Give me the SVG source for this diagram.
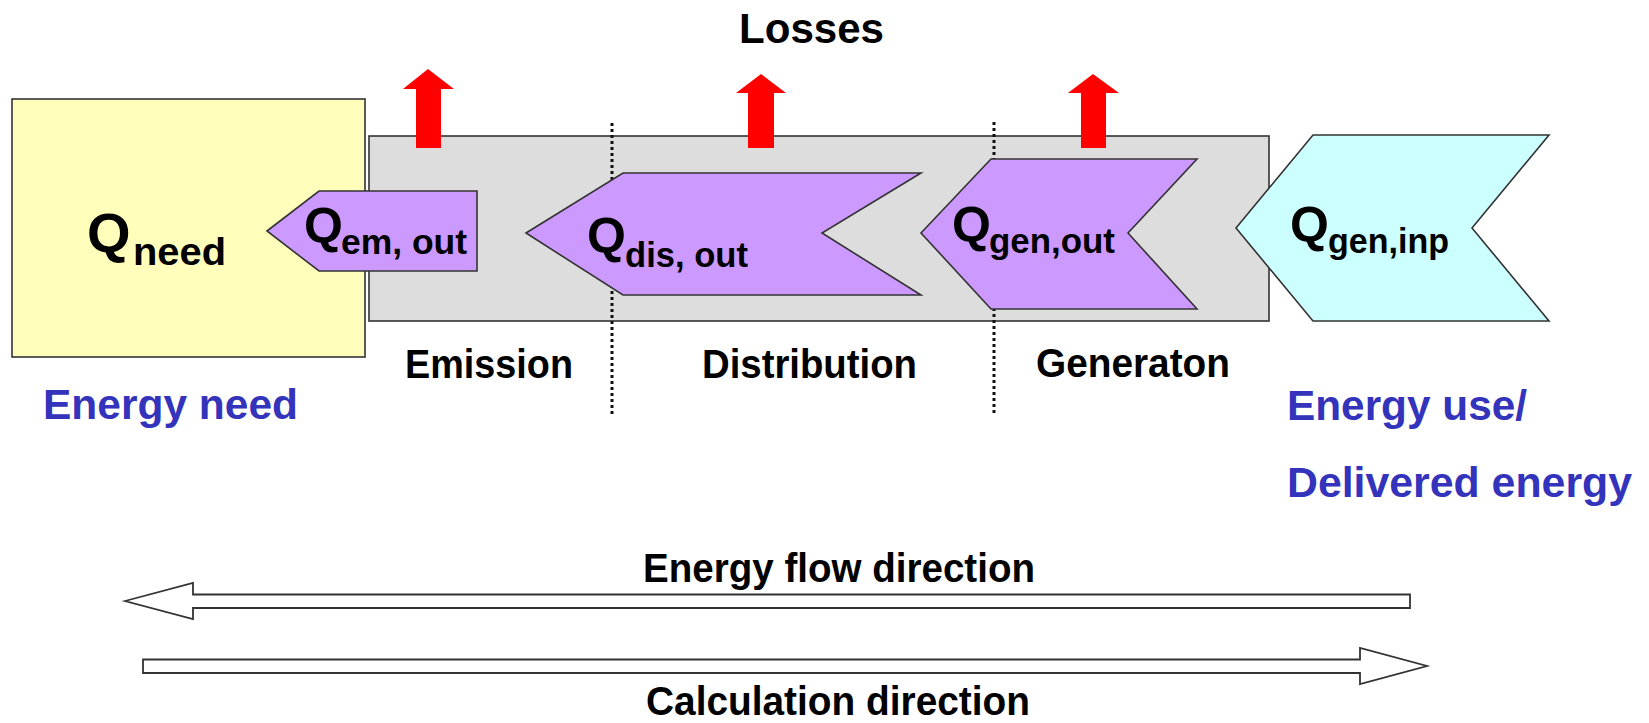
<svg xmlns="http://www.w3.org/2000/svg" width="1649" height="723" viewBox="0 0 1649 723">
<style>
text{font-family:"Liberation Sans",Arial,sans-serif;font-weight:bold;fill:#000}
.lbl{font-size:40px}
.blue{fill:#3333bb;font-size:42px}
.q{font-size:50px}
.sub{font-size:35px}
.shape{stroke:#333;stroke-width:1.6}
.purple{fill:#cc99ff}
.loss{fill:#ff0000}
.big{fill:#fff;stroke:#333;stroke-width:1.8}
.dot{stroke:#111;stroke-width:3;stroke-dasharray:3 3;fill:none}
</style>
<rect x="0" y="0" width="1649" height="723" fill="#fff"/>
<g id="need">
<rect class="shape" x="12" y="99" width="353" height="258" fill="#ffffbb"/>
<text x="87" y="252" style="font-size:56px">Q<tspan x="133" y="265" style="font-size:39px" textLength="93" lengthAdjust="spacingAndGlyphs">need</tspan></text>
</g>
<g id="system">
<rect class="shape" x="369" y="136" width="900" height="185" fill="#dddddd"/>
<line class="dot" x1="612" y1="123" x2="612" y2="415"/>
<line class="dot" x1="994" y1="122" x2="994" y2="415"/>
</g>
<g id="em">
<polygon class="shape purple" points="267,231 319,191 477,191 477,271 319,271"/>
<text class="q" x="304" y="243">Q<tspan class="sub" x="341" y="254" textLength="126" lengthAdjust="spacingAndGlyphs">em, out</tspan></text>
</g>
<g id="dis">
<polygon class="shape purple" points="526,233 623,173 921,173 822,233 921,295 623,295"/>
<text class="q" x="587" y="253">Q<tspan class="sub" x="625" y="267" textLength="123" lengthAdjust="spacingAndGlyphs">dis, out</tspan></text>
</g>
<g id="genout">
<polygon class="shape purple" points="921,233 991,159 1197,159 1128,233 1197,309 991,309"/>
<text class="q" x="952" y="242">Q<tspan class="sub" x="989" y="253" textLength="126" lengthAdjust="spacingAndGlyphs">gen,out</tspan></text>
</g>
<g id="geninp">
<polygon class="shape" fill="#ccffff" points="1236,228 1313,135 1549,135 1472,228 1549,321 1313,321"/>
<text class="q" x="1290" y="242">Q<tspan class="sub" x="1328" y="253" textLength="121" lengthAdjust="spacingAndGlyphs">gen,inp</tspan></text>
</g>
<g id="labels">
<text class="lbl" x="739" y="43" style="font-size:42px" textLength="145" lengthAdjust="spacingAndGlyphs">Losses</text>
<text class="lbl" x="405" y="378" textLength="168" lengthAdjust="spacingAndGlyphs">Emission</text>
<text class="lbl" x="702" y="378" textLength="215" lengthAdjust="spacingAndGlyphs">Distribution</text>
<text class="lbl" x="1036" y="377" textLength="194" lengthAdjust="spacingAndGlyphs">Generaton</text>
<text class="blue" x="43" y="419" textLength="255" lengthAdjust="spacingAndGlyphs">Energy need</text>
<text class="blue" x="1287" y="420" textLength="240" lengthAdjust="spacingAndGlyphs">Energy use/</text>
<text class="blue" x="1287" y="497" textLength="345" lengthAdjust="spacingAndGlyphs">Delivered energy</text>
<text class="lbl" x="643" y="582" textLength="392" lengthAdjust="spacingAndGlyphs">Energy flow direction</text>
<text class="lbl" x="646" y="715" textLength="384" lengthAdjust="spacingAndGlyphs">Calculation direction</text>
</g>
<g id="connectors">
<polygon class="loss" points="428,69 454,89 441,89 441,148 416,148 416,89 403,89"/>
<polygon class="loss" points="761,74 786,93 774,93 774,148 748,148 748,93 736,93"/>
<polygon class="loss" points="1093,74 1119,93 1106,93 1106,148 1081,148 1081,93 1068,93"/>
<polygon class="big" points="125,601 193,583 193,594.5 1410,594.5 1410,608 193,608 193,619"/>
<polygon class="big" points="143,659.5 1360,659.5 1360,648 1427,666 1360,684 1360,673 143,673"/>
</g>
</svg>
